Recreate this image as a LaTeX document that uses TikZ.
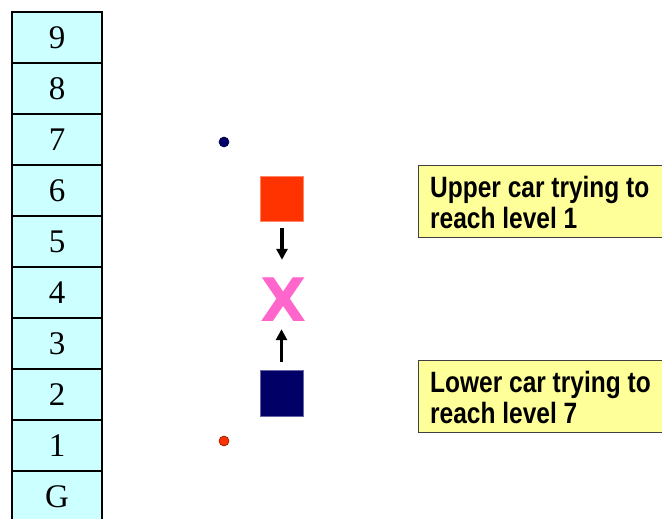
\documentclass[tikz,border=0pt]{standalone}
\usepackage{fontspec}
\setmainfont{Liberation Serif}
\setsansfont{Liberation Sans}
\newfontfamily\heavyx{DejaVu Sans Bold}
\usetikzlibrary{arrows.meta}
\definecolor{cellfill}{HTML}{CCFFFF}
\definecolor{notefill}{HTML}{FFFF99}
\definecolor{carred}{HTML}{FF3300}
\definecolor{carblue}{HTML}{000066}
\definecolor{xpink}{HTML}{FF66CC}
\tikzset{
  cell/.style={draw=black, line width=1.4pt, fill=cellfill, minimum width=90pt, minimum height=51pt, inner sep=0pt, font=\fontsize{33}{36}\selectfont},
  car/.style={minimum width=43pt, minimum height=45pt, inner sep=0pt},
  dotmark/.style={circle, inner sep=0pt, minimum size=10pt, line width=0.6pt},
  notebox/.style={draw=black!75, line width=1pt, fill=notefill, minimum width=250pt, minimum height=72pt, inner sep=0pt},
  notetext/.style={anchor=base west, inner sep=0pt, yscale=1.2, transform shape, font=\fontsize{24.5}{26}\selectfont\sffamily\bfseries},
  movearrow/.style={line width=3.2pt, -{Triangle[length=11pt,width=11pt]}}
}
\begin{document}
\begin{tikzpicture}[x=1pt,y=-1pt]
\useasboundingbox (0,0) rectangle (662,519);
\clip (0,0) rectangle (662,519);
% shaft levels
\node[cell] (c9) at (57,37.5) {9};
\node[cell] (c8) at (57,88.5) {8};
\node[cell] (c7) at (57,139.5) {7};
\node[cell] (c6) at (57,190.5) {6};
\node[cell] (c5) at (57,241.5) {5};
\node[cell] (c4) at (57,292.5) {4};
\node[cell] (c3) at (57,343.5) {3};
\node[cell] (c2) at (57,394.5) {2};
\node[cell] (c1) at (57,445.5) {1};
\node[cell] (cG) at (57,496.5) {G};
% dots
\node[dotmark, fill=carblue, draw=carblue!70!black] (dtop) at (224,142) {};
\node[dotmark, fill=carred, draw=carred!50!black] (dbot) at (224,441) {};
% cars
\node[car, fill=carred, draw=carred!60!white, line width=0.8pt] (upper) at (282,198.5) {};
\node[car, fill=carblue, draw=carblue!60!white, line width=0.8pt, minimum height=46pt] (lower) at (281.5,393) {};
% collision mark
\node[text=xpink, inner sep=0pt, minimum width=44pt, minimum height=44pt, font=\fontsize{60}{60}\selectfont\heavyx] (xmark) at (284,300) {X};
% arrows
\draw[movearrow, shorten <=7pt, shorten >=18pt] (upper.south) -- (upper.south |- xmark.north);
\draw[movearrow, shorten <=8pt, shorten >=7pt] (lower.north) -- (lower.north |- xmark.south);
% notes
\node[notebox] (n1) at (543,201) {};
\node[notebox] (n2) at (543,396) {};
\node[notetext] (n1a) at (430,197) {Upper car trying to};
\node[notetext] (n1b) at (430,228) {reach level 1};
\node[notetext] (n2a) at (430,392) {Lower car trying to};
\node[notetext] (n2b) at (430,423) {reach level 7};
\end{tikzpicture}
\end{document}
